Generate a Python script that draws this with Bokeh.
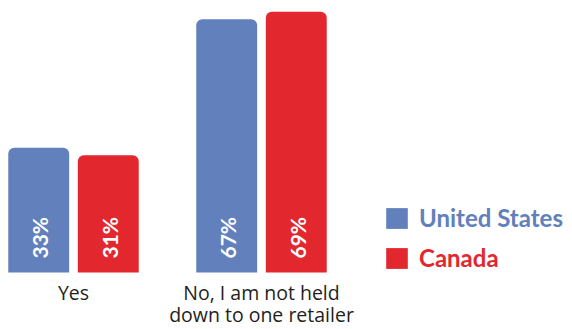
import math
from bokeh.plotting import figure
from bokeh.models import ColumnDataSource, Range1d, Legend, LegendItem
from bokeh.core.properties import value
from bokeh.transform import dodge
from bokeh.embed import file_html
from bokeh.resources import INLINE

categories = ["Yes", "No, I am not held\ndown to one retailer"]
us_values = [33, 67]
ca_values = [31, 69]
series = ["United States", "Canada"]
colors = ["#6180BC", "#E3272F"]

src = ColumnDataSource(dict(
    g=list(range(len(categories))),
    cat=categories,
    us=us_values,
    ca=ca_values,
    us_lbl=[f"{v}%" for v in us_values],
    ca_lbl=[f"{v}%" for v in ca_values],
))

p = figure(width=572, height=329, output_backend="svg", toolbar_location=None,
           x_range=Range1d(-0.3883, 2.6543), y_range=Range1d(-15.08, 71.96),
           min_border=0, outline_line_color=None)
p.axis.visible = False
p.grid.visible = False
p.background_fill_color = None
p.border_fill_color = None

off = 0.185
w = 0.324
r_us = p.vbar(x=dodge("g", -off), top="us", bottom=0, width=w, source=src,
              fill_color=colors[0], line_color=None, border_radius=(6, 6, 0, 0))
r_ca = p.vbar(x=dodge("g", off), top="ca", bottom=0, width=w, source=src,
              fill_color=colors[1], line_color=None, border_radius=(6, 6, 0, 0))

for col, d in (("us_lbl", -off), ("ca_lbl", off)):
    p.text(x=dodge("g", d), y=0, text=col, source=src, angle=math.pi / 2,
           text_align="left", text_baseline="middle", y_offset=-14, x_offset=1,
           text_color="white", text_font=value("Lato"), text_font_style="bold",
           text_font_size="21px")

p.text(x="g", y=0, text="cat", source=src, text_align="center", text_baseline="top",
       y_offset=7, text_color="#231F20", text_font=value("Open Sans"),
       text_font_size="19.5px", text_line_height=0.8)

for r, name, c, y in ((r_us, series[0], colors[0], 97), (r_ca, series[1], colors[1], 57)):
    leg = Legend(items=[LegendItem(label=name, renderers=[r])], location=(383, y),
                 padding=0, margin=0, border_line_color=None, background_fill_alpha=0,
                 glyph_width=27, glyph_height=26, label_standoff=9,
                 label_text_color=c, label_text_font="Lato", label_text_font_style="bold",
                 label_text_font_size="24px", label_height=26)
    p.add_layout(leg, "center")

open("out.html", "w").write(file_html(p, INLINE))
